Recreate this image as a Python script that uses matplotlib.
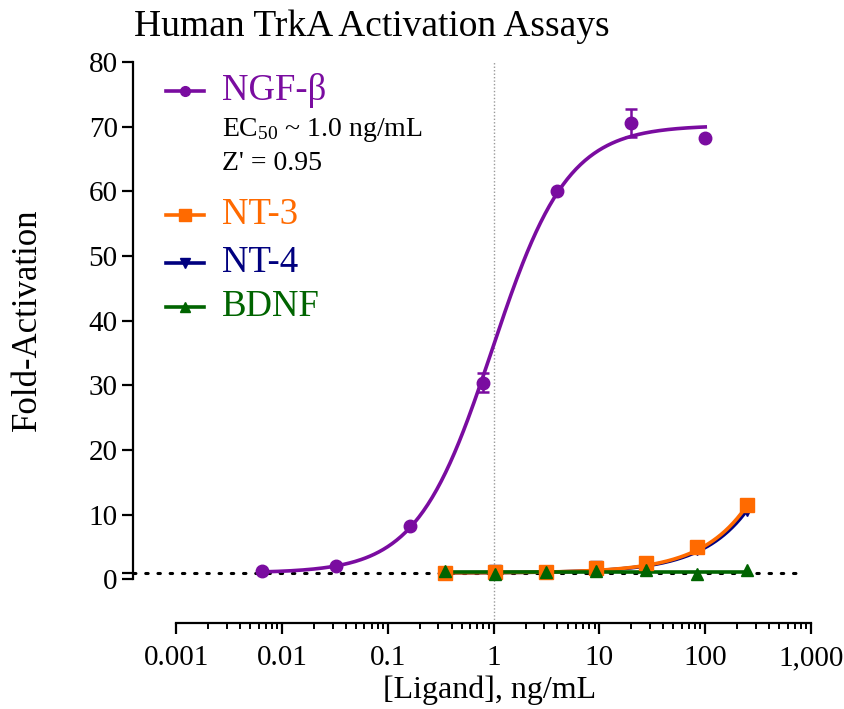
"""Human TrkA activation assays: fold-activation vs ligand concentration."""

import matplotlib
matplotlib.use("Agg")
import matplotlib.pyplot as plt
from matplotlib.lines import Line2D
from matplotlib.ticker import FixedLocator, FuncFormatter, NullFormatter
import numpy as np

plt.rcParams["font.family"] = ["Liberation Serif", "DejaVu Serif"]
plt.rcParams["mathtext.fontset"] = "custom"
plt.rcParams["mathtext.rm"] = "Liberation Serif"
plt.rcParams["mathtext.it"] = "Liberation Serif:italic"

# measured points (ng/mL, fold-activation)
ngf_x = [0.0064, 0.032, 0.16, 0.8, 4.0, 20.0, 100.0]
ngf_y = [1.3, 2.1, 8.3, 30.4, 60.1, 70.6, 68.2]
ngf_err = [0.0, 0.0, 0.0, 1.5, 0.0, 2.2, 0.0]

nt_x = [0.343, 1.03, 3.09, 9.26, 27.8, 83.3, 250.0]
nt3_y = [1.0, 1.15, 1.15, 1.8, 2.55, 5.0, 11.5]
nt4_y = [1.0, 1.3, 1.1, 1.9, 2.6, 4.7, 10.8]
nt4_err = [0.0, 0.6, 0.0, 0.6, 0.6, 0.0, 0.0]
bdnf_y = [1.3, 0.9, 1.1, 1.3, 1.4, 0.9, 1.4]

x_ticks = [1e-3, 1e-2, 1e-1, 1, 10, 100, 1000]

# fitted curve parameters (4PL)
NGF_FIT = dict(bottom=1.0, top=70.2, ec50=0.97, hill=1.22)
NT3_FIT = dict(bottom=1.0, top=4000.0, ec50=95000.0, hill=1.0)
NT4_FIT = dict(bottom=1.0, top=4000.0, ec50=102000.0, hill=1.0)
BDNF_LEVEL = 1.15

PURPLE = "#7a0ca0"
ORANGE = "#ff6a00"
NAVY = "#00007f"
GREEN = "#006400"


def ngf_curve(x):
    p = NGF_FIT
    return p["bottom"] + (p["top"] - p["bottom"]) * x ** p["hill"] / (p["ec50"] ** p["hill"] + x ** p["hill"])


def nt_curve(x, p):
    return p["bottom"] + p["top"] * x ** p["hill"] / (p["ec50"] ** p["hill"] + x ** p["hill"])


W, H = 844, 709
fig = plt.figure(figsize=(W / 100, H / 100), dpi=100)
left, right, top, bottom = 133, 811, 62, 623
ax = fig.add_axes([left / W, 1 - bottom / H, (right - left) / W, (bottom - top) / H])

ax.set_xscale("log")
ax.set_xlim(10 ** -3.41, 10 ** 3.0)
ax.set_ylim(-6.75, 80)

# reference lines
ax.plot([10 ** -3.41, 880], [1, 1], color="black", linestyle=(0, (0.8, 3.2)),
        linewidth=2.2, dash_capstyle="round", zorder=1, clip_on=False)
ax.axvline(1.0, color="#999999", linestyle=(0, (1, 1.5)), linewidth=1.0, zorder=1)

# fitted curves
xs = np.logspace(np.log10(ngf_x[0]), np.log10(ngf_x[-1]), 300)
ax.plot(xs, ngf_curve(xs), color=PURPLE, linewidth=2.6, zorder=3)
xn = np.logspace(np.log10(nt_x[0]), np.log10(nt_x[-1]), 300)
ax.plot(xn, nt_curve(xn, NT4_FIT), color=NAVY, linewidth=2.6, zorder=3)
ax.plot(xn, nt_curve(xn, NT3_FIT), color=ORANGE, linewidth=2.6, zorder=4)
ax.plot(xn, np.full_like(xn, BDNF_LEVEL), color=GREEN, linewidth=2.6, zorder=5)

# points
ax.errorbar(ngf_x, ngf_y, yerr=ngf_err, fmt="o", color=PURPLE, markersize=9,
            capsize=4, elinewidth=1.8, capthick=1.8, zorder=6, clip_on=False)
ax.errorbar(nt_x, nt4_y, yerr=nt4_err, fmt="v", color=NAVY, markersize=8,
            capsize=4, elinewidth=1.8, capthick=1.8, zorder=4)
ax.plot(nt_x, nt3_y, "s", color=ORANGE, markersize=10, zorder=5, clip_on=False)
ax.plot(nt_x, bdnf_y, "^", color=GREEN, markersize=9, zorder=6, clip_on=False)

# axes styling
for side in ("top", "right"):
    ax.spines[side].set_visible(False)
ax.spines["left"].set_bounds(0, 80)
ax.spines["bottom"].set_bounds(x_ticks[0], x_ticks[-1])
for side in ("left", "bottom"):
    ax.spines[side].set_linewidth(1.6)

minor_x = [m * d for d in x_ticks[:-1] for m in range(2, 10)]
ax.yaxis.set_major_locator(FixedLocator(np.arange(0, 81, 10)))
ax.yaxis.set_minor_locator(FixedLocator([1]))
ax.xaxis.set_major_locator(FixedLocator(x_ticks))
ax.xaxis.set_minor_locator(FixedLocator(minor_x))
ax.xaxis.set_minor_formatter(NullFormatter())
ax.xaxis.set_major_formatter(FuncFormatter(
    lambda v, pos: f"{v:,.0f}" if v >= 1 else f"{v:g}"))

ax.tick_params(axis="both", which="major", direction="out", length=8, width=1.6,
               labelsize=21, colors="black")
ax.tick_params(axis="y", which="minor", direction="out", length=8, width=1.6)
ax.tick_params(axis="x", which="minor", direction="out", length=4.5, width=1.4)
ax.tick_params(axis="x", which="major", pad=8)
ax.tick_params(axis="y", which="major", pad=3)

ax.set_xlabel("[Ligand], ng/mL", fontsize=23, va="center")
ax.xaxis.set_label_coords((490 - left) / (right - left), (bottom - 690) / (bottom - top))
ax.set_ylabel("Fold-Activation", fontsize=25, va="center")
ax.yaxis.set_label_coords((27 - left) / (right - left), (bottom - 320) / (bottom - top))
fig.text(372 / W, 1 - 27 / H, "Human TrkA Activation Assays", fontsize=27,
         ha="center", va="center")

# legend drawn by hand
legend_rows = [
    ("NGF-β", PURPLE, "o", 91, 7),
    ("NT-3", ORANGE, "s", 215, 8),
    ("NT-4", NAVY, "v", 263, 7),
    ("BDNF", GREEN, "^", 307, 7),
]
for label, color, marker, ypx, ms in legend_rows:
    yf = 1 - ypx / H
    fig.add_artist(Line2D([166 / W, 204 / W], [yf, yf], transform=fig.transFigure,
                          color=color, linewidth=2.6))
    fig.add_artist(Line2D([185 / W], [yf], transform=fig.transFigure,
                          color=color, marker=marker, markersize=ms, linestyle="none"))
    fig.text(222 / W, yf, label, color=color, fontsize=26.5, ha="left", va="center")

fig.text(222 / W, 1 - 130 / H, r"EC$_{50}$ ~ 1.0 ng/mL", fontsize=20,
         ha="left", va="center")
fig.text(222 / W, 1 - 163 / H, "Z' = 0.95", fontsize=20, ha="left", va="center")

fig.savefig("out.png", dpi=100)
